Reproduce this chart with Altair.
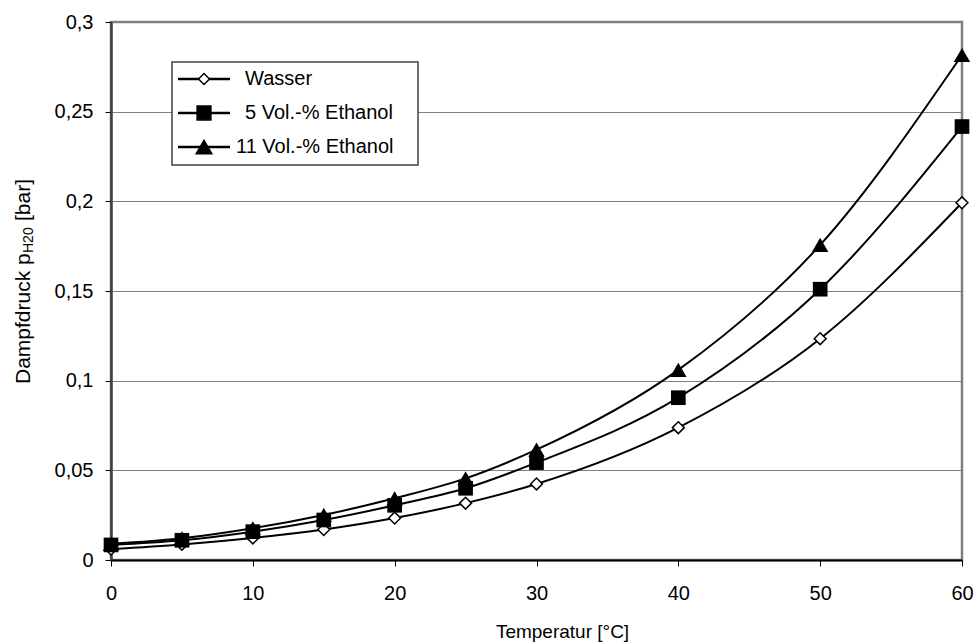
import altair as alt
import pandas as pd

temps = [0, 5, 10, 15, 20, 25, 30, 40, 50, 60]
wasser = [0.0061, 0.0087, 0.0123, 0.0170, 0.0234, 0.0317, 0.0424, 0.0738, 0.1234, 0.1992]
ethanol5 = [0.0084, 0.0110, 0.0158, 0.0223, 0.0305, 0.0400, 0.0543, 0.0905, 0.1510, 0.2417]
ethanol11 = [0.0090, 0.0121, 0.0177, 0.0251, 0.0344, 0.0455, 0.0615, 0.1060, 0.1757, 0.2816]
series_names = ["Wasser", "5 Vol.-% Ethanol", "11 Vol.-% Ethanol"]

rows = []
for name, vals in zip(series_names, [wasser, ethanol5, ethanol11]):
    for t, v in zip(temps, vals):
        rows.append({"T": t, "p": v, "serie": name})
df = pd.DataFrame(rows)

FONT = "Liberation Sans"
W, H = 851, 538

xenc = alt.X("T:Q", scale=alt.Scale(domain=[0, 60], nice=False),
             axis=alt.Axis(values=[0, 10, 20, 30, 40, 50, 60], title="Temperatur [°C]",
                           titleX=451, titleFontWeight="normal", titleFontSize=19,
                           titlePadding=19, labelFontSize=20, labelPadding=17,
                           labelFlush=False, labelOverlap=False,
                           tickSize=6, tickColor="#000000", domainColor="#000000",
                           domainWidth=2, grid=False, labelFont=FONT, titleFont=FONT,
                           labelColor="#000000", titleColor="#000000"))
yenc = alt.Y("p:Q", scale=alt.Scale(domain=[0, 0.3], nice=False),
             axis=alt.Axis(values=[0, 0.05, 0.1, 0.15, 0.2, 0.25, 0.3], title=None,
                           labelExpr="replace(format(datum.value, '~g'), '.', ',')",
                           labelFlush=False, labelOverlap=False,
                           labelFontSize=20, labelPadding=12, tickSize=6,
                           tickColor="#000000", domainColor="#404040", domainWidth=2.5,
                           grid=True, gridColor="#808080", gridWidth=1,
                           labelFont=FONT, labelColor="#000000"))

base = alt.Chart(df)

lines = base.mark_line(interpolate="monotone", color="#000000", strokeWidth=2).encode(
    x=xenc, y=yenc, detail="serie:N")

pts_w = base.transform_filter(alt.datum.serie == "Wasser").mark_point(
    shape="diamond", size=140, filled=True, fill="#ffffff", stroke="#000000",
    strokeWidth=1.5, opacity=1).encode(x="T:Q", y="p:Q")
pts_5 = base.transform_filter(alt.datum.serie == "5 Vol.-% Ethanol").mark_point(
    shape="square", size=215, filled=True, color="#000000", opacity=1).encode(x="T:Q", y="p:Q")
pts_11 = base.transform_filter(alt.datum.serie == "11 Vol.-% Ethanol").mark_point(
    shape="triangle-up", size=270, filled=True, color="#000000", opacity=1).encode(x="T:Q", y="p:Q")

one = alt.Data(values=[{"a": 1}])

# Legend box
leg_box = alt.Chart(one).mark_rect(fill="#ffffff", stroke="#404040", strokeWidth=1.5).encode(
    x=alt.value(61), x2=alt.value(307), y=alt.value(40), y2=alt.value(143))

leg_layers = [leg_box]
leg_y = [57, 91, 125]
leg_text_x = [134, 134, 125]
shapes = [("diamond", 120, "#ffffff"), ("square", 190, "#000000"), ("triangle-up", 240, "#000000")]
for name, yy, tx, (shp, sz, fl) in zip(series_names, leg_y, leg_text_x, shapes):
    leg_layers.append(alt.Chart(one).mark_rule(color="#000000", strokeWidth=2.5).encode(
        x=alt.value(67), x2=alt.value(119), y=alt.value(yy)))
    leg_layers.append(alt.Chart(one).mark_point(shape=shp, size=sz, filled=True, fill=fl,
                                                 stroke="#000000", strokeWidth=1.5, opacity=1).encode(
        x=alt.value(93), y=alt.value(yy)))
    leg_layers.append(alt.Chart(one).mark_text(text=name, align="left", baseline="middle",
                                                font=FONT, fontSize=20, color="#000000").encode(
        x=alt.value(tx), y=alt.value(yy)))

# Y axis title with subscript (pieces rotated to read bottom-to-top)
ty0 = 384 - 22
w1 = 131
w2 = 26
yt1 = alt.Chart(one).mark_text(text="Dampfdruck p", angle=270, align="left", baseline="middle",
                               font=FONT, fontSize=21, color="#000000").encode(
    x=alt.value(-87), y=alt.value(ty0))
yt2 = alt.Chart(one).mark_text(text="H20", angle=270, align="left", baseline="middle",
                               font=FONT, fontSize=14, color="#000000").encode(
    x=alt.value(-82), y=alt.value(ty0 - w1))
yt3 = alt.Chart(one).mark_text(text="[bar]", angle=270, align="left", baseline="middle",
                               font=FONT, fontSize=21, color="#000000").encode(
    x=alt.value(-87), y=alt.value(ty0 - w1 - w2 - 6))

chart = alt.layer(lines, pts_w, pts_5, pts_11, *leg_layers, yt1, yt2, yt3).properties(
    width=W, height=H,
    autosize=alt.AutoSizeParams(type="none"),
    padding={"left": 111, "top": 22, "right": 15, "bottom": 84},
    background="#ffffff",
).configure_view(stroke="#808080", strokeWidth=2.5)

chart.save("out.html", embed_options={"renderer": "svg", "actions": False})
